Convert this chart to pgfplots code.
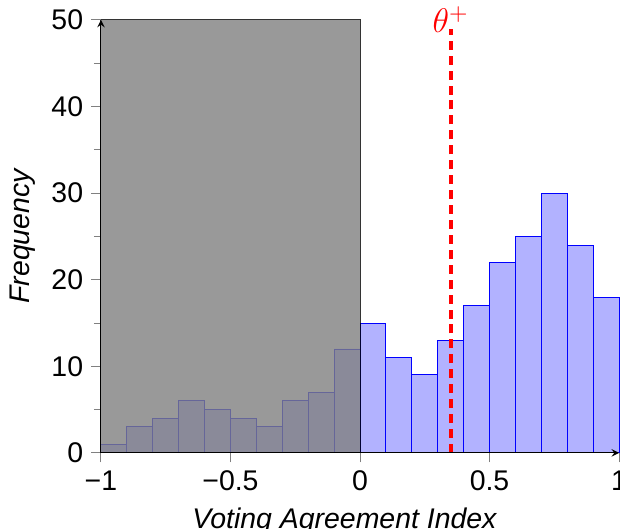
\documentclass[border=0pt]{standalone}
\usepackage{fontspec}
\setmainfont{Liberation Sans}
\usepackage{pgfplots}
\pgfplotsset{compat=1.18}
\begin{document}
\begin{tikzpicture}
\begin{axis}[
  scale only axis,
  width=218.6pt, height=182.7pt,
  xmin=-1, xmax=1, ymin=0, ymax=50,
  axis lines=left,
  axis on top,
  xtick={-1,-0.5,0,0.5,1},
  xticklabels={−1,−0.5,0,0.5,1},
  ytick={0,10,20,30,40,50},
  minor ytick={5,15,25,35,45},
  tick align=outside,
  tick style={gray, thin},
  major tick length=4pt,
  minor tick length=3pt,
  /pgf/number format/assume math mode=true,
  tick label style={font=\large},
  xlabel={\itshape Voting Agreement Index},
  ylabel={\itshape Frequency},
  label style={font=\large},
  xlabel style={at={(ticklabel cs:0.47)}, anchor=near ticklabel, yshift=-0.5pt},
  clip=false,
]
\addplot[ybar interval, fill=blue!30, draw=blue] coordinates {
(-1,1) (-0.9,3) (-0.8,4) (-0.7,6) (-0.6,5) (-0.5,4) (-0.4,3) (-0.3,6) (-0.2,7) (-0.1,12)
(0,15) (0.1,11) (0.2,9) (0.3,13) (0.4,17) (0.5,22) (0.6,25) (0.7,30) (0.8,24) (0.9,18) (1,18)
};
\addplot[fill=gray, fill opacity=0.8, draw=black, draw opacity=0.8] coordinates {(-1,0) (-1,50) (0,50) (0,0)} -- cycle;
\addplot[red, line width=1.7pt, dash pattern=on 3.8pt off 2.5pt] coordinates {(0.35,0) (0.35,49)}
  node[pos=1, anchor=south, text=red, font=\Large, inner sep=1pt, yshift=-3.5pt] {$\theta^{+}$};
\end{axis}
\pgfresetboundingbox
\path[use as bounding box] ([shift={(-42.6pt,-32.1pt)}]current axis.south west) rectangle ([shift={(0.4pt,8.4pt)}]current axis.north east);
\end{tikzpicture}
\end{document}
